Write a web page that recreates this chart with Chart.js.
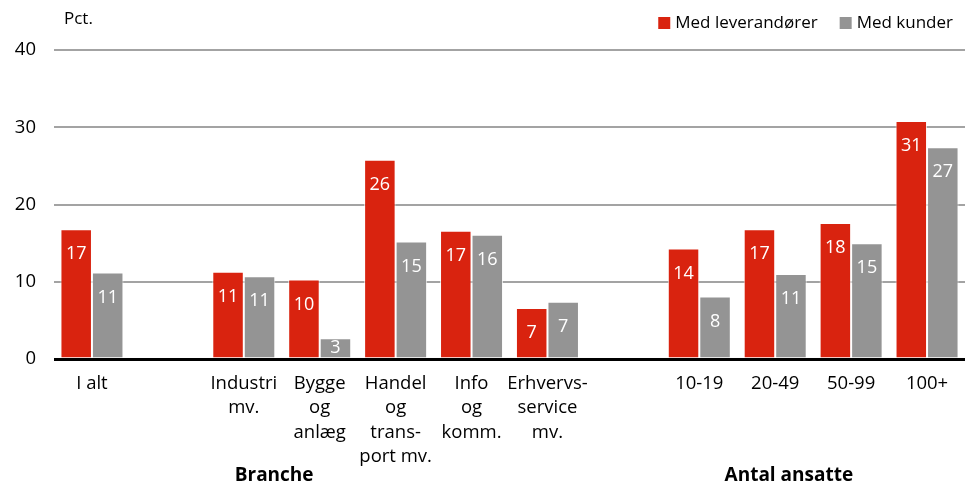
<!DOCTYPE html>
<html>
<head>
<meta charset="utf-8">
<script src="https://cdn.jsdelivr.net/npm/chart.js@4.4.1/dist/chart.umd.min.js"></script>
<style>
  html, body { margin: 0; padding: 0; background: #fff; }
  #wrap { width: 974px; height: 487px; position: relative; }
</style>
</head>
<body>
<div id="wrap"><canvas id="c" width="974" height="487"></canvas></div>
<script>
// ---- data ----
const categories = [
  ['I alt'], '', ['Industri', 'mv.'], ['Bygge', 'og', 'anlæg'], ['Handel', 'og', 'trans-', 'port mv.'],
  ['Info', 'og', 'komm.'], ['Erhvervs-', 'service', 'mv.'], '', ['10-19'], ['20-49'], ['50-99'], ['100+']
];
const seriesNames = ['Med leverandører', 'Med kunder'];
const leverandoerer = [16.8, null, 11.3, 10.3, 25.8, 16.6, 6.6, null, 14.3, 16.8, 17.6, 30.8];
const kunder        = [11.2, null, 10.7, 2.7, 15.2, 16.1, 7.4, null, 8.1, 11.0, 15.0, 27.4];
const yTicks = [0, 10, 20, 30, 40];
const unitLabel = 'Pct.';
const groupLabels = ['Branche', 'Antal ansatte'];
const groupPositions = [2.4, 9.18]; // category index positions

const RED = '#d9230f';
const GRAY = '#949494';
const FONT = "'Open Sans', 'Noto Sans', sans-serif";

const extras = {
  id: 'extras',
  afterDatasetsDraw(chart) {
    const ctx = chart.ctx;
    ctx.save();
    ctx.fillStyle = '#ffffff';
    ctx.font = '18px ' + FONT;
    ctx.textAlign = 'center';
    ctx.textBaseline = 'middle';
    chart.data.datasets.forEach((ds, di) => {
      const meta = chart.getDatasetMeta(di);
      meta.data.forEach((bar, i) => {
        const v = ds.data[i];
        if (v === null || v === undefined) return;
        const y = Math.min(bar.y + 25, (bar.y + bar.base) / 2);
        ctx.fillText(String(Math.round(v)), bar.x, y);
      });
    });
    ctx.restore();
  },
  afterDraw(chart) {
    const ctx = chart.ctx;
    const area = chart.chartArea;
    const xs = chart.scales.x;
    ctx.save();
    // unit label
    ctx.fillStyle = '#000';
    ctx.font = '17px ' + FONT;
    ctx.textAlign = 'left';
    ctx.textBaseline = 'middle';
    ctx.fillText(unitLabel, area.left + 10, 19);
    // legend
    const colors = [RED, GRAY];
    ctx.font = '17px ' + FONT;
    const gap = 22, box = 12, boxGap = 5;
    let widths = seriesNames.map(n => ctx.measureText(n).width);
    let total = widths.reduce((a, b) => a + b, 0) + seriesNames.length * (box + boxGap) + gap * (seriesNames.length - 1);
    let x = area.right - 12 - total;
    const ly = 23;
    seriesNames.forEach((n, i) => {
      ctx.fillStyle = colors[i];
      ctx.fillRect(x, ly - box / 2, box, box);
      x += box + boxGap;
      ctx.fillStyle = '#000';
      ctx.fillText(n, x, ly);
      x += widths[i] + gap;
    });
    // group labels
    ctx.font = 'bold 19px ' + FONT;
    ctx.textAlign = 'center';
    groupLabels.forEach((g, i) => {
      const p = groupPositions[i];
      const i0 = Math.floor(p);
      const px = xs.getPixelForValue(i0) + (p - i0) * (xs.getPixelForValue(i0 + 1) - xs.getPixelForValue(i0));
      ctx.fillText(g, px, 476);
    });
    ctx.restore();
  }
};

new Chart(document.getElementById('c'), {
  type: 'bar',
  data: {
    labels: categories,
    datasets: [
      { label: seriesNames[0], data: leverandoerer, backgroundColor: RED, borderColor: 'rgba(255,255,255,0.75)', borderWidth: 1, borderSkipped: 'bottom' },
      { label: seriesNames[1], data: kunder, backgroundColor: GRAY, borderColor: 'rgba(255,255,255,0.75)', borderWidth: 1, borderSkipped: 'bottom' }
    ]
  },
  options: {
    responsive: false,
    animation: false,
    devicePixelRatio: 1,
    layout: { padding: { top: 50, right: 9, left: 0, bottom: 0 } },
    datasets: { bar: { categoryPercentage: 0.83, barPercentage: 1.0 } },
    plugins: { legend: { display: false }, tooltip: { enabled: false } },
    scales: {
      x: {
        grid: { display: false },
        border: { display: false },
        ticks: {
          autoSkip: false, maxRotation: 0, minRotation: 0, color: '#000',
          font: { family: FONT, size: 18.5, lineHeight: 1.33 }, padding: 4
        },
        afterFit(scale) { scale.height = 128; }
      },
      y: {
        min: 0, max: 40,
        afterBuildTicks(scale) { scale.ticks = yTicks.map(v => ({ value: v })); },
        grid: {
          drawTicks: false,
          color: (c) => c.tick && c.tick.value === 0 ? '#000000' : '#a3a3a3',
          lineWidth: (c) => c.tick && c.tick.value === 0 ? 3 : 2
        },
        border: { display: false },
        ticks: { color: '#000', font: { family: FONT, size: 18.5 }, padding: 18 },
        afterFit(scale) { scale.width = 54; }
      }
    }
  },
  plugins: [extras]
});
</script>
</body>
</html>
